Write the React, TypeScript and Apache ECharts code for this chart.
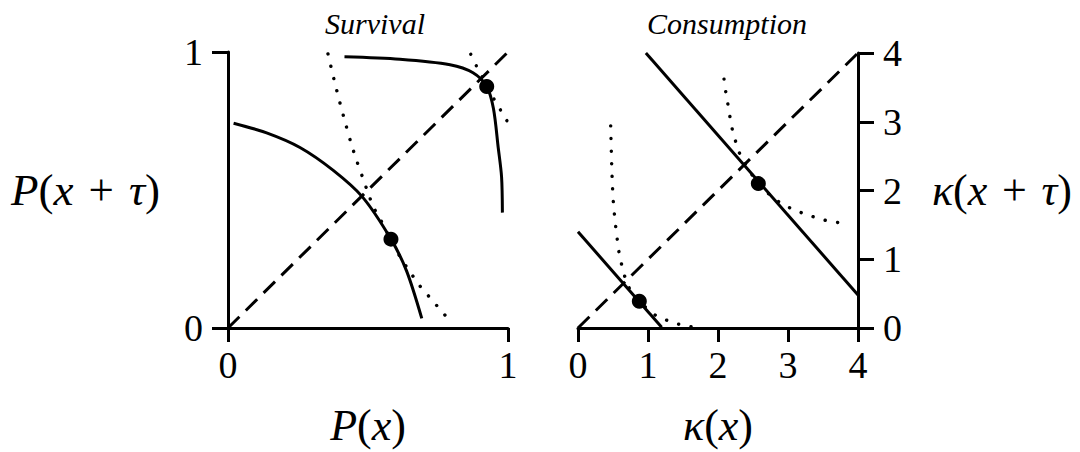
import React, { useEffect, useRef } from "react";
import * as echarts from "echarts";

// ---- Survival panel data ----
const survivalTicks = [0, 1];
const survivalDiagonal = [[0, 0], [1, 1]];
const survivalLowCurve = [
  [0.02, 0.742], [0.138, 0.707], [0.257, 0.654], [0.376, 0.571], [0.48, 0.475],
  [0.582, 0.322], [0.638, 0.206], [0.692, 0.035],
];
const survivalLowDotted = [
  [0.357, 0.993], [0.38, 0.895], [0.4, 0.815], [0.42, 0.74], [0.44, 0.668],
  [0.46, 0.605], [0.48, 0.548], [0.5, 0.49], [0.52, 0.437], [0.545, 0.392],
  [0.582, 0.318], [0.614, 0.259], [0.64, 0.218], [0.668, 0.177], [0.694, 0.141],
  [0.725, 0.106], [0.754, 0.071], [0.785, 0.035],
];
const survivalHighCurve = [
  [0.416, 0.983], [0.614, 0.974], [0.793, 0.954], [0.875, 0.925], [0.924, 0.875],
  [0.948, 0.795], [0.965, 0.654], [0.977, 0.548], [0.98, 0.418],
];
const survivalHighDotted = [
  [0.867, 0.992], [0.888, 0.948], [0.924, 0.88], [0.951, 0.828], [0.975, 0.787], [0.999, 0.746],
];
const survivalPoints = [[0.582, 0.322], [0.924, 0.875]];

// ---- Consumption panel data ----
const consumptionTicks = [0, 1, 2, 3, 4];
const consumptionDiagonal = [[0, 0], [4, 4]];
const consumptionHighLine = [[0.97, 4.0], [4.0, 0.48]];
const consumptionLowLine = [[0, 1.4], [1.195, 0.01]];
const consumptionLowDotted = [
  [0.467, 2.94], [0.476, 2.57], [0.487, 2.2], [0.505, 1.83], [0.539, 1.47],
  [0.562, 1.28], [0.586, 1.1], [0.624, 0.92], [0.671, 0.74], [0.738, 0.57],
  [0.876, 0.39], [1.114, 0.18], [1.29, 0.105], [1.471, 0.047], [1.648, 0.014],
];
const consumptionHighDotted = [
  [2.086, 3.62], [2.11, 3.44], [2.139, 3.27], [2.171, 3.07], [2.204, 2.89],
  [2.253, 2.71], [2.314, 2.53], [2.576, 2.1], [2.876, 1.83], [3.043, 1.74],
  [3.21, 1.67], [3.386, 1.61], [3.561, 1.56], [3.743, 1.53],
];
const consumptionPoints = [[0.876, 0.39], [2.576, 2.1]];

const FONT = "Liberation Serif";
const INK = "#000";

export default function App() {
  const ref = useRef<HTMLDivElement>(null);

  useEffect(() => {
    if (!ref.current) return;
    const chart = echarts.init(ref.current, null, { renderer: "svg" });

    const axisLine = { show: true, onZero: false, lineStyle: { color: INK, width: 3 } };
    const tick = (len: number) => ({ show: true, length: len, lineStyle: { color: INK, width: 3 } });
    const labelStyle = (margin: number) => ({
      show: true, color: INK, fontFamily: FONT, fontSize: 38, margin,
    });
    const nameStyle = (size: number) => ({
      color: INK, fontFamily: FONT, fontSize: size,
      rich: { i: { fontStyle: "italic", fontFamily: FONT, fontSize: size, color: INK } },
    });

    const solid = (data: number[][], xi: number, smooth: number | boolean = 0.3) => ({
      type: "line", data, xAxisIndex: xi, yAxisIndex: xi, symbol: "none", smooth,
      lineStyle: { color: INK, width: 3 }, silent: true, clip: false,
    });
    const dotted = (data: number[][], xi: number) => ({
      type: "line", data, xAxisIndex: xi, yAxisIndex: xi, symbol: "none", smooth: 0.3,
      lineStyle: { color: INK, width: 3.4, type: [0.1, 12.5], cap: "round" }, silent: true, clip: false,
    });
    const dashed = (data: number[][], xi: number) => ({
      type: "line", data, xAxisIndex: xi, yAxisIndex: xi, symbol: "none",
      lineStyle: { color: INK, width: 3, type: [16, 9] }, silent: true, clip: false,
    });
    const dots = (data: number[][], xi: number) => ({
      type: "scatter", data, xAxisIndex: xi, yAxisIndex: xi, symbol: "circle", symbolSize: 15,
      itemStyle: { color: INK, opacity: 1 }, z: 10, silent: true,
    });

    chart.setOption({
      animation: false,
      backgroundColor: "#fff",
      title: [
        {
          text: "Survival", left: 370, top: 3, textAlign: "center",
          textStyle: { fontFamily: FONT, fontStyle: "italic", fontWeight: "normal", fontSize: 30, color: INK },
        },
        {
          text: "Consumption", left: 722, top: 3, textAlign: "center",
          textStyle: { fontFamily: FONT, fontStyle: "italic", fontWeight: "normal", fontSize: 30, color: INK },
        },
      ],
      grid: [
        { left: 228, top: 52, width: 280, height: 283 },
        { left: 578, top: 53, width: 280, height: 282 },
      ],
      xAxis: [
        {
          gridIndex: 0, type: "value", min: survivalTicks[0], max: survivalTicks[survivalTicks.length - 1], interval: 1,
          axisLine, axisTick: tick(14), axisLabel: labelStyle(18), splitLine: { show: false },
          name: "{i|P}({i|x})", nameLocation: "middle", nameGap: 75, nameTextStyle: nameStyle(44),
        },
        {
          gridIndex: 1, type: "value", min: consumptionTicks[0], max: consumptionTicks[consumptionTicks.length - 1], interval: 1,
          axisLine, axisTick: tick(14), axisLabel: labelStyle(18), splitLine: { show: false },
          name: "{i|κ}({i|x})", nameLocation: "middle", nameGap: 75, nameTextStyle: nameStyle(44),
        },
      ],
      yAxis: [
        {
          gridIndex: 0, type: "value", min: survivalTicks[0], max: survivalTicks[survivalTicks.length - 1], interval: 1,
          position: "left",
          axisLine, axisTick: tick(16), axisLabel: labelStyle(25), splitLine: { show: false },
          name: "{i|P}({i|x}\u2004+\u2004{i|τ})", nameLocation: "middle", nameRotate: 0, nameGap: 68, nameTextStyle: nameStyle(45),
        },
        {
          gridIndex: 1, type: "value", min: consumptionTicks[0], max: consumptionTicks[consumptionTicks.length - 1], interval: 1,
          position: "right",
          axisLine, axisTick: tick(16), axisLabel: labelStyle(25), splitLine: { show: false },
          name: "{i|κ}({i|x}\u2004+\u2004{i|τ})", nameLocation: "middle", nameRotate: 0, nameGap: 74, nameTextStyle: nameStyle(44),
        },
      ],
      series: [
        dashed(survivalDiagonal, 0),
        solid(survivalLowCurve, 0),
        dotted(survivalLowDotted, 0),
        solid(survivalHighCurve, 0),
        dotted(survivalHighDotted, 0),
        dots(survivalPoints, 0),
        dashed(consumptionDiagonal, 1),
        solid(consumptionHighLine, 1, false),
        solid(consumptionLowLine, 1, false),
        dotted(consumptionLowDotted, 1),
        dotted(consumptionHighDotted, 1),
        dots(consumptionPoints, 1),
      ],
    });

    return () => chart.dispose();
  }, []);

  return (
    <div
      ref={ref}
      style={{ position: "fixed", left: 0, top: 0, width: 1080, height: 452, background: "#fff" }}
    />
  );
}
